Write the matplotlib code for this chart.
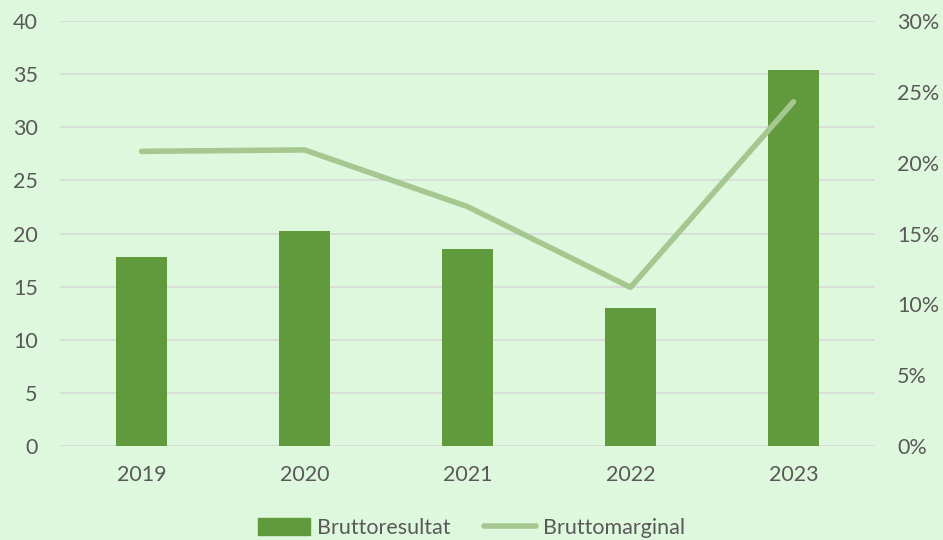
import matplotlib
matplotlib.use("Agg")
import matplotlib.pyplot as plt
from matplotlib.ticker import FuncFormatter
from matplotlib.lines import Line2D
from matplotlib.patches import Patch

years = ["2019", "2020", "2021", "2022", "2023"]
bruttoresultat = [17.8, 20.2, 18.5, 13.0, 35.4]
bruttomarginal = [20.8, 20.9, 16.9, 11.2, 24.3]

bg = "#DEF8DE"
bar_c = "#619A3D"
line_c = "#A5C890"
txt = "#595959"
grid_c = "#D9D9D9"

plt.rcParams["font.family"] = ["Lato", "DejaVu Sans"]
fs = 15.5

W, H = 943, 540
fig = plt.figure(figsize=(W / 100, H / 100), dpi=100, facecolor=bg)
ax = fig.add_axes([60 / W, 1 - 446 / H, (875 - 60) / W, (446 - 21) / H])
ax.set_facecolor(bg)
x = list(range(len(years)))
ax.bar(x, bruttoresultat, width=0.31, color=bar_c, zorder=3)
ax.set_xlim(-0.5, len(years) - 0.5)
ax.set_ylim(0, 40)
ax.set_yticks(range(0, 41, 5))
ax.set_xticks(x)
ax.set_xticklabels(years)
ax.grid(axis="y", color=grid_c, linewidth=1.2, zorder=0)
for s in ax.spines.values():
    s.set_visible(False)
ax.tick_params(axis="both", length=0, colors=txt, labelsize=fs)
ax.tick_params(axis="x", pad=14)
ax.tick_params(axis="y", pad=16)

ax2 = ax.twinx()
ax2.plot(x, bruttomarginal, color=line_c, linewidth=4, solid_capstyle="round", zorder=4)
ax2.set_ylim(0, 30)
ax2.set_yticks(range(0, 31, 5))
ax2.yaxis.set_major_formatter(FuncFormatter(lambda v, p: f"{int(v)}%"))
for s in ax2.spines.values():
    s.set_visible(False)
ax2.tick_params(axis="y", length=0, colors=txt, labelsize=fs, pad=16)

handles = [Patch(color=bar_c, label="Bruttoresultat"),
           Line2D([0], [0], color=line_c, linewidth=4, solid_capstyle="round", label="Bruttomarginal")]
leg = fig.legend(handles=handles, loc="center", bbox_to_anchor=(0.5, 1 - 528 / H), ncol=2,
                 frameon=False, fontsize=fs, labelcolor=txt, handlelength=2.4,
                 handleheight=0.8, columnspacing=1.6, handletextpad=0.3)

fig.savefig("out.png", dpi=100, facecolor=bg)
